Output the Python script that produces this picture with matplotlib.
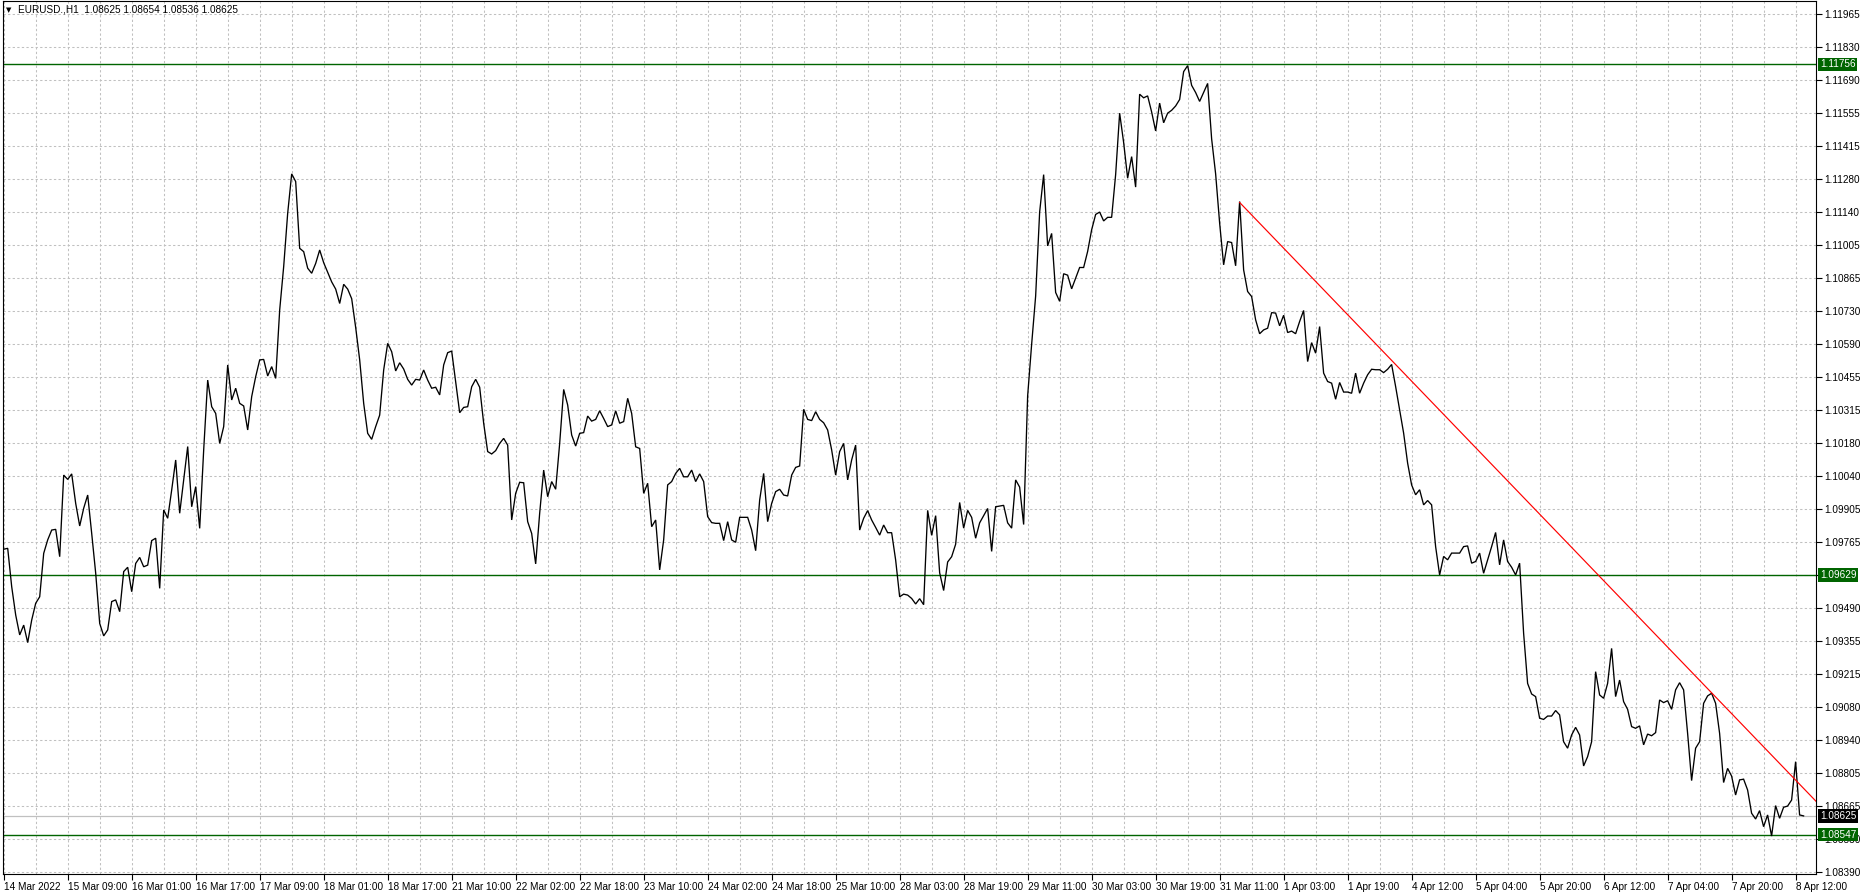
import matplotlib
matplotlib.use('Agg')
import matplotlib.pyplot as plt
from matplotlib import transforms

# ---------------- data (hourly closes, bar 0 = 14 Mar 17:00) ----------------
close = [
    1.09736, 1.09740, 1.09580, 1.09462, 1.09379, 1.09420, 1.09347, 1.09441, 1.09511, 1.09538,
    1.09719, 1.09775, 1.09816, 1.09819, 1.09705, 1.10045, 1.10027, 1.10050, 1.09927, 1.09833,
    1.09907, 1.09962, 1.09802, 1.09636, 1.09427, 1.09375, 1.09400, 1.09518, 1.09525, 1.09476,
    1.09643, 1.09661, 1.09559, 1.09677, 1.09702, 1.09663, 1.09670, 1.09772, 1.09782, 1.09573,
    1.09900, 1.09865, 1.09983, 1.10108, 1.09886, 1.10025, 1.10164, 1.09913, 1.09997, 1.09823,
    1.10150, 1.10441, 1.10330, 1.10302, 1.10177, 1.10247, 1.10504, 1.10358, 1.10407, 1.10344,
    1.10333, 1.10233, 1.10372, 1.10455, 1.10525, 1.10527, 1.10458, 1.10497, 1.10448, 1.10733,
    1.10914, 1.11136, 1.11300, 1.11268, 1.10990, 1.10976, 1.10907, 1.10886, 1.10927, 1.10983,
    1.10930, 1.10890, 1.10850, 1.10820, 1.10760, 1.10840, 1.10820, 1.10780, 1.10660, 1.10525,
    1.10344, 1.10219, 1.10194, 1.10247, 1.10295, 1.10483, 1.10594, 1.10559, 1.10479, 1.10513,
    1.10487, 1.10444, 1.10420, 1.10444, 1.10441, 1.10483, 1.10441, 1.10407, 1.10411, 1.10379,
    1.10504, 1.10555, 1.10562, 1.10434, 1.10305, 1.10327, 1.10330, 1.10413, 1.10444, 1.10411,
    1.10261, 1.10143, 1.10133, 1.10147, 1.10177, 1.10198, 1.10170, 1.09858, 1.09969, 1.10015,
    1.10013, 1.09851, 1.09802, 1.09675, 1.09886, 1.10066, 1.09955, 1.10018, 1.09986, 1.10177,
    1.10402, 1.10337, 1.10212, 1.10166, 1.10219, 1.10222, 1.10291, 1.10270, 1.10277, 1.10313,
    1.10281, 1.10247, 1.10254, 1.10313, 1.10261, 1.10268, 1.10365, 1.10302, 1.10163, 1.10156,
    1.09969, 1.10011, 1.09830, 1.09858, 1.09650, 1.09775, 1.10004, 1.10018, 1.10052, 1.10073,
    1.10038, 1.10038, 1.10066, 1.10018, 1.10050, 1.10018, 1.09872, 1.09847, 1.09844, 1.09844,
    1.09772, 1.09851, 1.09775, 1.09765, 1.09869, 1.09869, 1.09869, 1.09816, 1.09730, 1.09941,
    1.10052, 1.09851, 1.09927, 1.09976, 1.09986, 1.09962, 1.09958, 1.10045, 1.10077, 1.10083,
    1.10319, 1.10277, 1.10272, 1.10309, 1.10277, 1.10263, 1.10233, 1.10150, 1.10045, 1.10143,
    1.10177, 1.10025, 1.10108, 1.10170, 1.09816, 1.09865, 1.09897, 1.09858, 1.09827, 1.09795,
    1.09837, 1.09805, 1.09805, 1.09691, 1.09538, 1.09549, 1.09545, 1.09531, 1.09508, 1.09530,
    1.09505, 1.09898, 1.09794, 1.09876, 1.09638, 1.09564, 1.09683, 1.09705, 1.09757, 1.09931,
    1.09824, 1.09898, 1.09869, 1.09782, 1.09846, 1.09876, 1.09906, 1.09727, 1.09913, 1.09916,
    1.09919, 1.09846, 1.09824, 1.10025, 1.09995, 1.09839, 1.10375, 1.10590, 1.10791, 1.11141,
    1.11297, 1.11000, 1.11052, 1.10806, 1.10769, 1.10884, 1.10878, 1.10821, 1.10866, 1.10910,
    1.10910, 1.10977, 1.11067, 1.11131, 1.11141, 1.11104, 1.11119, 1.11119, 1.11297, 1.11553,
    1.11431, 1.11282, 1.11372, 1.11245, 1.11632, 1.11617, 1.11625, 1.11558, 1.11479, 1.11595,
    1.11513, 1.11553, 1.11565, 1.11583, 1.11610, 1.11726, 1.11751, 1.11669, 1.11639, 1.11602,
    1.11639, 1.11677, 1.11446, 1.11300, 1.11095, 1.10921, 1.11018, 1.11014, 1.10917, 1.11185,
    1.10900, 1.10810, 1.10789, 1.10692, 1.10634, 1.10650, 1.10657, 1.10722, 1.10720, 1.10667,
    1.10711, 1.10639, 1.10645, 1.10634, 1.10685, 1.10731, 1.10518, 1.10597, 1.10553, 1.10664,
    1.10470, 1.10435, 1.10428, 1.10361, 1.10431, 1.10391, 1.10391, 1.10386, 1.10470, 1.10386,
    1.10428, 1.10463, 1.10486, 1.10484, 1.10484, 1.10472, 1.10486, 1.10506, 1.10414, 1.10317,
    1.10220, 1.10095, 1.10004, 1.09963, 1.09984, 1.09921, 1.09939, 1.09921, 1.09747, 1.09629,
    1.09706, 1.09692, 1.09720, 1.09720, 1.09720, 1.09747, 1.09750, 1.09678, 1.09685, 1.09720,
    1.09636, 1.09692, 1.09747, 1.09806, 1.09671, 1.09775, 1.09685, 1.09661, 1.09629, 1.09678,
    1.09386, 1.09177, 1.09133, 1.09122, 1.09032, 1.09027, 1.09041, 1.09041, 1.09064, 1.09046,
    1.08934, 1.08907, 1.08962, 1.08994, 1.08962, 1.08833, 1.08872, 1.08934, 1.09226, 1.09129,
    1.09115, 1.09177, 1.09323, 1.09122, 1.09191, 1.09101, 1.09069, 1.08997, 1.08990, 1.09000,
    1.08921, 1.08966, 1.08959, 1.08972, 1.09108, 1.09097, 1.09105, 1.09069, 1.09150, 1.09180,
    1.09150, 1.08969, 1.08772, 1.08907, 1.08934, 1.09094, 1.09125, 1.09136, 1.09094, 1.08969,
    1.08764, 1.08823, 1.08791, 1.08712, 1.08775, 1.08778, 1.08733, 1.08636, 1.08612, 1.08647,
    1.08580, 1.08629, 1.08541, 1.08668, 1.08615, 1.08661, 1.08666, 1.08691, 1.08851, 1.08629,
    1.08625,
]

time_labels = [
    "14 Mar 2022", "15 Mar 09:00", "16 Mar 01:00", "16 Mar 17:00", "17 Mar 09:00",
    "18 Mar 01:00", "18 Mar 17:00", "21 Mar 10:00", "22 Mar 02:00", "22 Mar 18:00",
    "23 Mar 10:00", "24 Mar 02:00", "24 Mar 18:00", "25 Mar 10:00", "28 Mar 03:00",
    "28 Mar 19:00", "29 Mar 11:00", "30 Mar 03:00", "30 Mar 19:00", "31 Mar 11:00",
    "1 Apr 03:00", "1 Apr 19:00", "4 Apr 12:00", "5 Apr 04:00", "5 Apr 20:00",
    "6 Apr 12:00", "7 Apr 04:00", "7 Apr 20:00", "8 Apr 12:00",
]
bars_per_label = 16

price_ticks = [
    1.11965, 1.11830, 1.11690, 1.11555, 1.11415, 1.11280, 1.11140, 1.11005, 1.10865,
    1.10730, 1.10590, 1.10455, 1.10315, 1.10180, 1.10040, 1.09905, 1.09765, 1.09630,
    1.09490, 1.09355, 1.09215, 1.09080, 1.08940, 1.08805, 1.08665, 1.08530, 1.08390,
]
# tick labels fully covered by a level box in the reference are not shown
hidden_tick_labels = [1.09630]

hlines = [1.11756, 1.09629, 1.08547]
bid = 1.08625
trend_p1 = (309, 1.11181)
trend_p2 = (398, 1.09640)
title = "EURUSD.,H1  1.08625 1.08654 1.08536 1.08625"

# ---------------- figure ----------------
W, H = 1860, 896
fig = plt.figure(figsize=(W / 100, H / 100), dpi=100)
L, R, T, B = 2.5, 1816, 1, 874
ax = fig.add_axes([L / W, 1 - B / H, (R - L) / W, (B - T) / H])

x_left, x_right = -0.3, 453.1
y_bot, y_top = 1.083829, 1.120204
ax.set_xlim(x_left, x_right)
ax.set_ylim(y_bot, y_top)

FONT = 'Liberation Sans'
FS = 7.2
grid_c = '#C0C0C0'
green = '#006400'

# grid
for gx in range(0, 453, 8):
    ax.axvline(gx, color=grid_c, lw=0.75, ls=(0, (2.2, 2.2)), zorder=0)
for py in price_ticks:
    ax.axhline(py, color=grid_c, lw=0.75, ls=(0, (2.2, 2.2)), zorder=0)

# bid line
ax.axhline(bid, color='#C0C0C0', lw=0.9, zorder=1)

# horizontal levels
for h in hlines:
    ax.axhline(h, color=green, lw=1.0, zorder=2)

# price line
ax.plot(range(len(close)), close, color='black', lw=0.95, zorder=3,
        solid_joinstyle='miter')

# trend line (ray to the right edge)
slope = (trend_p2[1] - trend_p1[1]) / (trend_p2[0] - trend_p1[0])
tx = [trend_p1[0], x_right]
ty = [trend_p1[1], trend_p1[1] + slope * (x_right - trend_p1[0])]
ax.plot(tx, ty, color='#FF0000', lw=0.85, zorder=4)

# axes style
for s in ax.spines.values():
    s.set_color('black')
    s.set_linewidth(0.8)

ax.yaxis.tick_right()
ax.set_yticks(price_ticks)
ax.set_yticklabels(["" if p in hidden_tick_labels else f"{p:.5f}" for p in price_ticks],
                   fontsize=FS, family=FONT)
ax.tick_params(axis='y', direction='out', length=4, width=0.8, pad=2, colors='black')

xt = [k * bars_per_label for k in range(len(time_labels))]
ax.set_xticks(xt)
ax.set_xticklabels(time_labels, fontsize=FS, family=FONT, ha='left')
ax.tick_params(axis='x', direction='out', length=4, width=0.8, pad=2, colors='black')

# right-side value boxes
trans = transforms.blended_transform_factory(ax.transAxes, ax.transData)
off = transforms.offset_copy(trans, fig=fig, x=4, y=0, units='dots')
for h in hlines:
    ax.text(1.0, h, f"{h:.5f}", transform=off, ha='left', va='center',
            fontsize=FS, family=FONT, color='white', clip_on=False, zorder=10,
            bbox=dict(boxstyle='square,pad=0.18', fc=green, ec='none'))
ax.text(1.0, bid, f"{bid:.5f}", transform=off, ha='left', va='center',
        fontsize=FS, family=FONT, color='white', clip_on=False, zorder=10,
        bbox=dict(boxstyle='square,pad=0.18', fc='black', ec='none'))

# title
fig.text(6 / W, 1 - 10 / H, "\u25BC", fontsize=5, color='black', va='center', ha='left',
         family='DejaVu Sans')
fig.text(18 / W, 1 - 10 / H, title, fontsize=FS, color='black', va='center', ha='left',
         family=FONT)

fig.savefig('out.png', dpi=100, facecolor='white')
